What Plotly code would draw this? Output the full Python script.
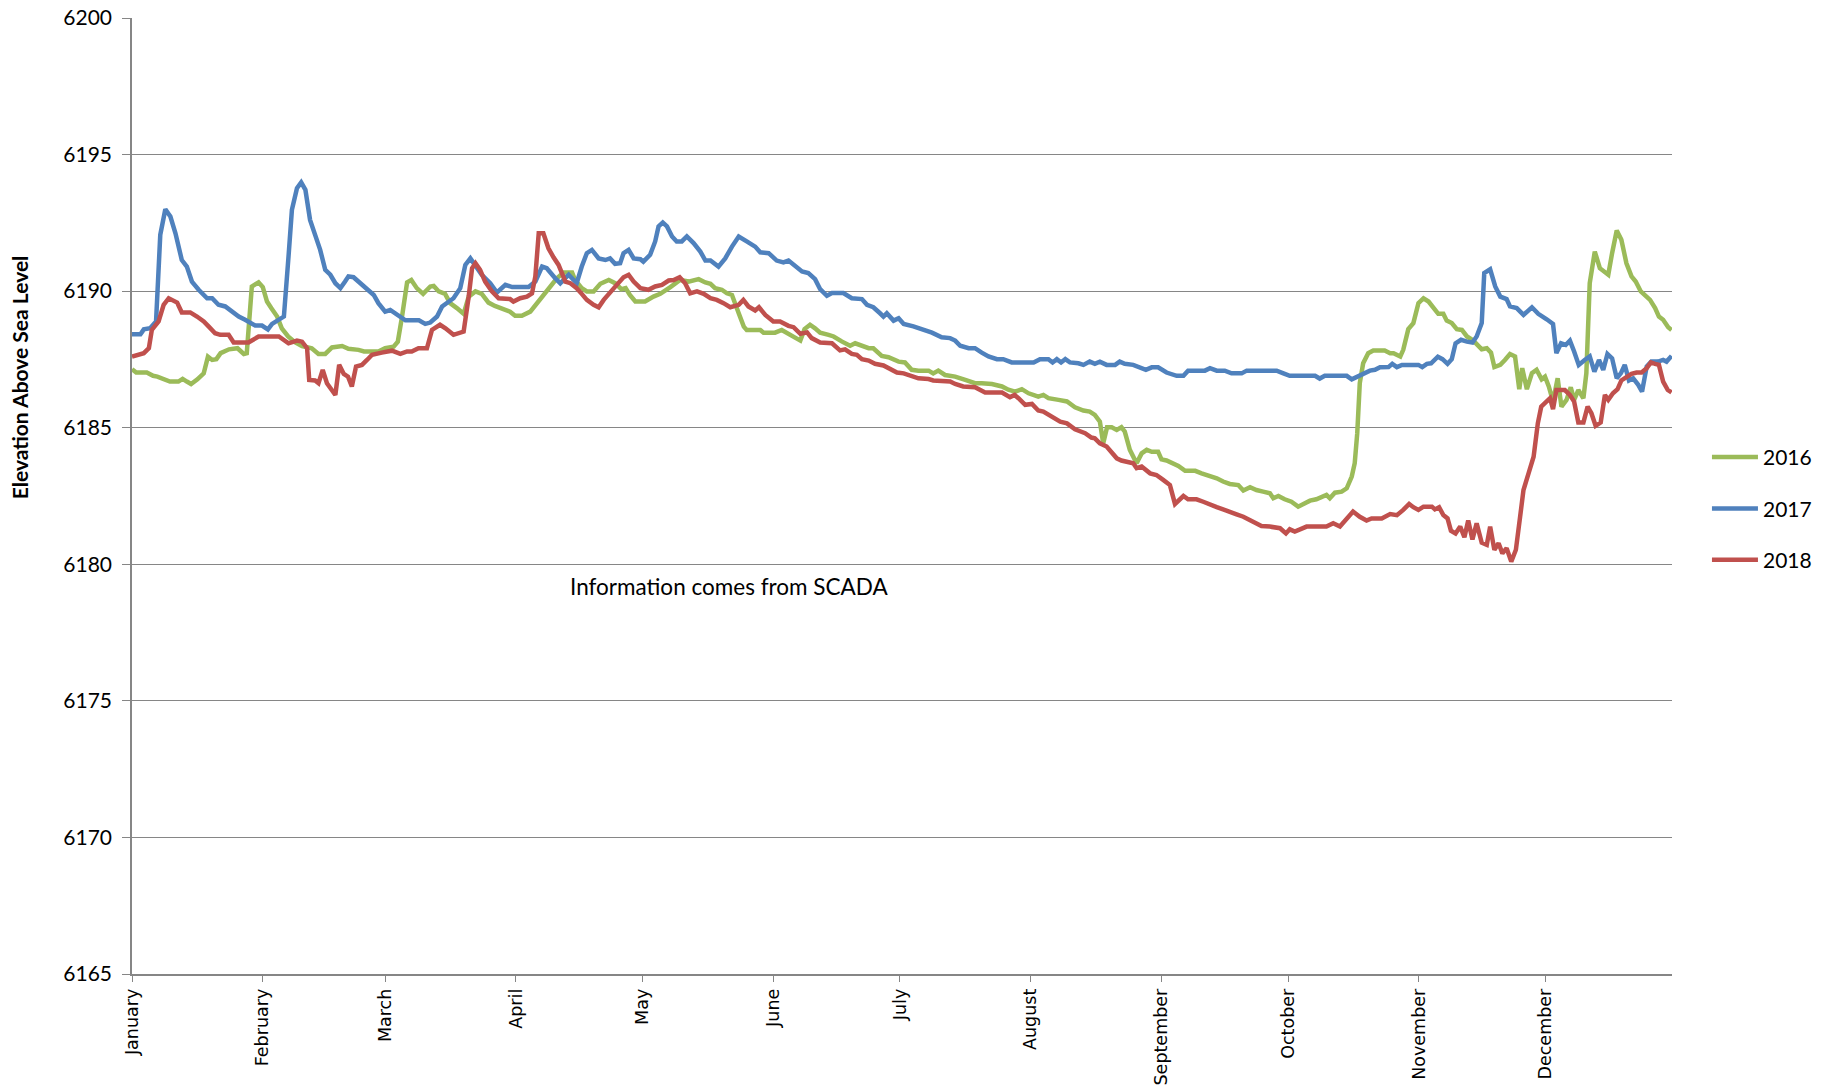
import plotly.graph_objects as go

# Reservoir elevation (ft above sea level) by day of year, 0 = January 1
days_2016 = [0, 1, 3.5, 5, 6, 7.5, 9, 11, 12, 13, 14, 15.5, 17, 18, 19, 20, 21, 23, 25, 26.5, 27.2,
             28.4, 30, 31, 32, 33, 34.4, 35.5, 37, 38.7, 40.3, 42.6, 44.2, 45.8, 47.4, 49.8, 51.3,
             53.7, 55, 58.4, 60, 62, 63, 64, 65.2, 66.2, 67.5, 69, 70.7, 71.5, 72.7, 74.2, 75.4, 77,
             78.6, 79.8, 81.4, 82.9, 84.5, 86, 88.5, 89.6, 90.8, 92.4, 94.4, 96, 97.5, 99, 100.7,
             102.3, 104.3, 105, 106.6, 107.8, 109.4, 111, 113, 114.5, 116, 117, 118, 119.3, 121.6,
             123.6, 125.2, 127.6, 129.9, 131.9, 134.3, 135.9, 137.1, 138.2, 139.8, 141, 142.2,
             143.8, 145, 145.7, 148.9, 149.7, 152.4, 154, 155.6, 158.4, 159.4, 160.7, 161.9, 163.1,
             165.1, 166.3, 168.2, 170.2, 171.4, 173, 174.6, 175.7, 177.7, 179.3, 181.7, 183.2,
             184.8, 186.4, 188.8, 189.9, 191.1, 192.7, 195.1, 197.5, 199.8, 201.4, 203.8, 206.2,
             207.7, 209.3, 210.9, 212.5, 214.8, 216, 217.2, 219.6, 221.6, 223.5, 225.5, 227, 228.2,
             229.4, 230.2, 231.1, 232.2, 233.4, 234.5, 235.3, 236.5, 238.1, 239.3, 240.5, 241.7,
             243.2, 244, 245.2, 246.8, 248, 249.6, 252, 253.5, 255.5, 257.1, 258.6, 260.2, 262.2,
             263.4, 265, 266.5, 268.1, 269.7, 270.5, 271.7, 273.2, 274.8, 276.4, 277.6, 279.2,
             280.7, 281.9, 283.1, 283.9, 285.1, 286.7, 287.9, 289.1, 289.8, 290.4, 291, 291.8, 293,
             294.2, 296.9, 298.2, 299, 300.6, 301.3, 302.5, 303.7, 304.9, 306.1, 307.3, 308.5, 309.6,
             310.8, 311.6, 312.8, 314, 315.2, 316.4, 317.9, 319.1, 319.9, 321.1, 322.1, 322.9, 324.3,
             325.4, 326.6, 327.8, 328.8, 329.5, 330.6, 331.8, 332.9, 334.1, 334.9, 335.8, 336.8,
             337.9, 338.8, 340, 341, 341.8, 342.8, 344, 344.7, 345.5, 346.7, 347.9, 349.9, 350.8,
             351.9, 353, 354.2, 355.4, 356.4, 357.6, 359.8, 361, 361.9, 362.9, 364.1, 364.9]
elev_2016 = [6187.14, 6187.02, 6187.02, 6186.9, 6186.87, 6186.79, 6186.69, 6186.69, 6186.79, 6186.69,
             6186.6, 6186.77, 6186.99, 6187.6, 6187.48, 6187.51, 6187.73, 6187.87, 6187.91, 6187.7,
             6187.73, 6190.17, 6190.32, 6190.15, 6189.62, 6189.38, 6189.07, 6188.64, 6188.34,
             6188.12, 6187.99, 6187.91, 6187.7, 6187.7, 6187.94, 6187.99, 6187.89, 6187.85, 6187.79,
             6187.79, 6187.91, 6187.97, 6188.15, 6189.07, 6190.32, 6190.41, 6190.11, 6189.9, 6190.17,
             6190.19, 6189.99, 6189.9, 6189.56, 6189.38, 6189.17, 6189.8, 6189.99, 6189.9, 6189.58,
             6189.46, 6189.29, 6189.25, 6189.1, 6189.1, 6189.25, 6189.56, 6189.8, 6190.11, 6190.47,
             6190.68, 6190.68, 6190.41, 6190.11, 6189.99, 6189.99, 6190.27, 6190.41, 6190.29,
             6190.07, 6190.11, 6189.86, 6189.62, 6189.62, 6189.8, 6189.9, 6190.15, 6190.41, 6190.35,
             6190.44, 6190.32, 6190.27, 6190.11, 6190.05, 6189.92, 6189.86, 6189.19, 6188.7, 6188.58,
             6188.58, 6188.48, 6188.48, 6188.58, 6188.44, 6188.19, 6188.61, 6188.77, 6188.64,
             6188.48, 6188.4, 6188.34, 6188.16, 6188.0, 6188.09, 6188.0, 6187.91, 6187.91, 6187.63,
             6187.58, 6187.42, 6187.39, 6187.12, 6187.09, 6187.09, 6186.99, 6187.09, 6186.93,
             6186.87, 6186.75, 6186.63, 6186.63, 6186.6, 6186.51, 6186.39, 6186.32, 6186.41, 6186.26,
             6186.14, 6186.2, 6186.08, 6186.02, 6185.96, 6185.75, 6185.63, 6185.59, 6185.47, 6185.22,
             6184.43, 6185.02, 6185.02, 6184.92, 6185.02, 6184.86, 6184.19, 6183.7, 6184.06, 6184.19,
             6184.12, 6184.12, 6183.84, 6183.8, 6183.67, 6183.6, 6183.42, 6183.42, 6183.33, 6183.23,
             6183.15, 6183.03, 6182.94, 6182.9, 6182.7, 6182.82, 6182.72, 6182.66, 6182.6, 6182.42,
             6182.5, 6182.38, 6182.29, 6182.11, 6182.21, 6182.33, 6182.38, 6182.48, 6182.54, 6182.42,
             6182.62, 6182.66, 6182.78, 6183.21, 6183.7, 6184.8, 6186.63, 6187.36, 6187.73, 6187.83,
             6187.83, 6187.73, 6187.73, 6187.61, 6187.85, 6188.61, 6188.83, 6189.56, 6189.74,
             6189.62, 6189.38, 6189.17, 6189.17, 6188.92, 6188.83, 6188.61, 6188.58, 6188.34,
             6188.19, 6188.03, 6187.87, 6187.91, 6187.75, 6187.22, 6187.3, 6187.48, 6187.7, 6187.61,
             6186.41, 6187.18, 6186.41, 6187.0, 6187.12, 6186.77, 6186.87, 6186.51, 6185.96, 6186.81,
             6185.77, 6186.02, 6186.48, 6186.02, 6186.38, 6186.08, 6186.99, 6190.29, 6191.45,
             6190.84, 6190.6, 6191.39, 6192.22, 6191.88, 6191.02, 6190.54, 6190.35, 6189.99, 6189.68,
             6189.38, 6189.07, 6188.95, 6188.68, 6188.58]

days_2017 = [0, 2, 2.8, 4.3, 5.7, 6.7, 7.9, 9.1, 10.3, 11.8, 13, 14.2, 15.8, 17.8, 19, 20.5, 22.1,
             23.7, 25.3, 26.8, 29.2, 30.8, 32.2, 33.2, 34.4, 36, 37.1, 37.9, 39.1, 40.1, 41.1, 42.2,
             43.4, 44.6, 45.8, 47, 48.2, 49.4, 50.5, 51.3, 52.5, 53.7, 55.3, 57.3, 58.4, 60, 61.2,
             62.8, 64.8, 68, 69.5, 70.7, 72.3, 73.5, 76.2, 77.8, 79, 80.2, 81.4, 82.9, 84.9, 86.5,
             88.5, 90.1, 94, 95.6, 97.2, 98.3, 100.3, 101.5, 103.5, 105.4, 106.6, 107.8, 109, 110.6,
             112.2, 113.3, 114.5, 115.7, 116.5, 117.7, 118.9, 120.5, 121.2, 122.8, 124, 124.8, 125.8,
             126.8, 128, 129.1, 130.3, 131.5, 133.1, 134.7, 135.9, 137.1, 139, 140.6, 142.2, 143.8,
             145.7, 147.7, 148.9, 150.9, 152.8, 154.4, 155.6, 157.6, 158.8, 160.3, 161.9, 163.1,
             164.7, 165.9, 168.6, 170.6, 173, 174.2, 175.7, 177.3, 178.1, 178.9, 180.5, 181.7, 182.9,
             185.2, 187.2, 189.6, 191.9, 193.9, 195.1, 196.3, 198.3, 199.8, 201.4, 203, 205, 206.5,
             208.5, 213.7, 215.2, 217.2, 218.2, 219.2, 220.2, 221.2, 222.3, 224.3, 225.5, 227, 228.2,
             229.4, 231, 233, 234.1, 235.3, 237.3, 238.9, 240.3, 241.7, 243.2, 245.2, 247.6, 249.2,
             250.3, 254.3, 255.5, 257.1, 259, 260.6, 263, 264.2, 271.3, 272.9, 274.4, 280.4, 281.5,
             282.7, 287.9, 289.1, 290.2, 291.8, 293.4, 294.6, 295.8, 297.8, 298.7, 299.8, 301, 304.9,
             305.8, 306.9, 307.9, 309.5, 310.6, 311.8, 312.8, 313.7, 315, 316.4, 317.7, 318.7, 319.9,
             320.5, 321.9, 323.1, 324.3, 325.8, 326.6, 328.2, 329.8, 331.8, 333.3, 335.3, 336.8,
             337.6, 338.7, 339.8, 340.8, 341.8, 342.9, 344.3, 345.5, 346.6, 347.7, 348.7, 349.7,
             350.8, 351.9, 352.9, 353.8, 354.8, 355.8, 357, 357.9, 359, 360.1, 361.7, 362.9, 363.7,
             364.9]
elev_2017 = [6188.42, 6188.42, 6188.6, 6188.64, 6188.89, 6192.06, 6193.0, 6192.73, 6192.12, 6191.14,
             6190.9, 6190.35, 6190.05, 6189.74, 6189.74, 6189.5, 6189.44, 6189.25, 6189.07, 6188.95,
             6188.74, 6188.74, 6188.6, 6188.8, 6188.9, 6189.07, 6191.27, 6192.98, 6193.77, 6193.98,
             6193.71, 6192.61, 6192.06, 6191.51, 6190.78, 6190.6, 6190.29, 6190.11, 6190.35, 6190.54,
             6190.51, 6190.35, 6190.11, 6189.86, 6189.56, 6189.25, 6189.31, 6189.13, 6188.93,
             6188.93, 6188.8, 6188.85, 6189.07, 6189.44, 6189.74, 6190.11, 6190.96, 6191.2, 6190.96,
             6190.6, 6190.29, 6189.95, 6190.23, 6190.15, 6190.15, 6190.35, 6190.9, 6190.84, 6190.47,
             6190.29, 6190.6, 6190.29, 6190.9, 6191.39, 6191.51, 6191.2, 6191.14, 6191.2, 6191.0,
             6191.02, 6191.39, 6191.51, 6191.2, 6191.17, 6191.08, 6191.33, 6191.82, 6192.37, 6192.51,
             6192.37, 6192.0, 6191.82, 6191.82, 6192.0, 6191.76, 6191.45, 6191.12, 6191.12, 6190.9,
             6191.2, 6191.63, 6192.0, 6191.82, 6191.63, 6191.42, 6191.39, 6191.12, 6191.05, 6191.12,
             6190.84, 6190.72, 6190.66, 6190.44, 6190.07, 6189.83, 6189.93, 6189.93, 6189.74,
             6189.71, 6189.5, 6189.41, 6189.19, 6189.07, 6189.19, 6188.92, 6189.01, 6188.8, 6188.71,
             6188.61, 6188.48, 6188.31, 6188.28, 6188.19, 6188.0, 6187.91, 6187.91, 6187.75, 6187.61,
             6187.51, 6187.51, 6187.39, 6187.39, 6187.51, 6187.51, 6187.39, 6187.51, 6187.39,
             6187.51, 6187.39, 6187.36, 6187.3, 6187.42, 6187.34, 6187.42, 6187.3, 6187.3, 6187.42,
             6187.34, 6187.3, 6187.21, 6187.12, 6187.21, 6187.21, 6187.02, 6186.9, 6186.9, 6187.09,
             6187.09, 6187.18, 6187.09, 6187.09, 6186.99, 6186.99, 6187.09, 6187.09, 6186.99, 6186.9,
             6186.9, 6186.8, 6186.9, 6186.9, 6186.77, 6186.85, 6186.97, 6187.09, 6187.12, 6187.21,
             6187.22, 6187.34, 6187.22, 6187.3, 6187.3, 6187.22, 6187.34, 6187.36, 6187.6, 6187.51,
             6187.34, 6187.51, 6188.09, 6188.22, 6188.15, 6188.12, 6188.34, 6188.83, 6190.66, 6190.8,
             6190.17, 6189.8, 6189.71, 6189.44, 6189.38, 6189.13, 6189.41, 6189.17, 6188.97, 6188.8,
             6187.73, 6188.09, 6188.03, 6188.19, 6187.79, 6187.3, 6187.48, 6187.61, 6187.05, 6187.48,
             6187.12, 6187.7, 6187.54, 6186.81, 6187.0, 6187.3, 6186.73, 6186.81, 6186.57, 6186.32,
             6187.24, 6187.42, 6187.42, 6187.48, 6187.42, 6187.63]

days_2018 = [0, 1.6, 2.8, 4, 4.7, 6.3, 7.5, 8.7, 9.9, 10.7, 11.8, 13.8, 15.4, 17, 18.2, 19.7, 20.9,
             22.9, 24.1, 27.6, 30, 34.8, 37.1, 39.1, 40.3, 41.5, 42, 43.4, 44.2, 45.2, 46.2, 48.2,
             49.1, 50.2, 51.2, 52.1, 53.1, 54.5, 55.7, 56.9, 59.2, 61.6, 63.6, 65.2, 66.3, 67.9, 69.9,
             71.1, 73, 74.3, 76.2, 77.4, 78.6, 79.8, 80.6, 81.4, 82.5, 83.7, 85.3, 86.9, 89.6, 90.4,
             92, 93.6, 94.8, 95.6, 96.4, 97.5, 98.7, 99.9, 101.1, 101.9, 102.7, 103.9, 105.4, 106.6,
             107.8, 109.4, 110.6, 111.8, 113.3, 114.9, 116.5, 117.7, 118.9, 120.5, 122.4, 124, 125.6,
             127.2, 128.4, 129.8, 131.1, 132.3, 133.9, 135.5, 137.1, 138.6, 140.2, 141.8, 143.8,
             144.9, 146.1, 147.7, 148.6, 150.1, 152, 153.6, 155.6, 156.8, 158.4, 160, 161.1, 163.1,
             165.9, 167.8, 169, 170.6, 171.8, 173, 174.6, 176.1, 178.1, 179.7, 181.3, 182.9, 184.4,
             186.4, 188.8, 189.9, 193.9, 195.1, 197, 199.8, 202.2, 206.2, 208.1, 209.2, 210.1, 211.7,
             213.3, 214.8, 216, 218, 220, 221.6, 223.5, 225.9, 227.4, 228.2, 229.4, 231, 232.2, 233.4,
             234.5, 236.5, 237.3, 238.1, 239.3, 241.3, 242.8, 244.4, 246, 247.2, 248.4, 249.2, 250.3,
             252.3, 253.9, 255.5, 257.1, 258.6, 260.2, 261.8, 263.4, 265, 266.5, 267.7, 269.7, 272.1,
             273.5, 274.4, 275.6, 276.8, 278.4, 283.1, 284.7, 286.3, 287.9, 289.4, 291, 292.6, 293.8,
             296.2, 298.2, 299.8, 301.3, 302.7, 303.7, 304.9, 306.1, 308.1, 308.8, 309.8, 310.8,
             311.8, 312.6, 313.7, 314.8, 315.8, 316.7, 317.7, 318.7, 319.9, 321.1, 321.9, 322.9,
             323.9, 324.8, 325.8, 326.9, 328, 329, 329.8, 331, 332.2, 333.2, 334, 335.3, 336.1, 336.8,
             337.6, 339.6, 340.8, 341.8, 342.8, 344, 345, 345.9, 346.9, 348.1, 349.1, 349.9, 351,
             352.1, 353, 354.2, 355.4, 356.6, 357.8, 359, 360, 361, 361.9, 362.9, 364, 364.9]
elev_2018 = [6187.6, 6187.67, 6187.73, 6187.91, 6188.58, 6188.89, 6189.5, 6189.74, 6189.62, 6189.58,
             6189.22, 6189.22, 6189.07, 6188.89, 6188.7, 6188.46, 6188.4, 6188.4, 6188.12, 6188.12,
             6188.34, 6188.34, 6188.09, 6188.19, 6188.15, 6187.91, 6186.75, 6186.73, 6186.63,
             6187.12, 6186.63, 6186.2, 6187.3, 6186.97, 6186.87, 6186.51, 6187.24, 6187.3, 6187.48,
             6187.67, 6187.75, 6187.82, 6187.7, 6187.79, 6187.79, 6187.91, 6187.91, 6188.58, 6188.77,
             6188.64, 6188.4, 6188.46, 6188.52, 6189.8, 6190.84, 6191.02, 6190.78, 6190.35, 6189.99,
             6189.74, 6189.71, 6189.62, 6189.74, 6189.8, 6189.92, 6190.54, 6192.12, 6192.12, 6191.57,
             6191.24, 6190.96, 6190.66, 6190.35, 6190.29, 6190.11, 6189.9, 6189.68, 6189.5, 6189.41,
             6189.68, 6189.92, 6190.23, 6190.51, 6190.6, 6190.35, 6190.11, 6190.05, 6190.17, 6190.23,
             6190.39, 6190.41, 6190.51, 6190.29, 6189.92, 6189.99, 6189.9, 6189.74, 6189.68, 6189.56,
             6189.41, 6189.5, 6189.68, 6189.44, 6189.29, 6189.41, 6189.13, 6188.89, 6188.89, 6188.73,
             6188.68, 6188.44, 6188.49, 6188.28, 6188.12, 6188.09, 6187.83, 6187.87, 6187.7, 6187.67,
             6187.51, 6187.46, 6187.34, 6187.28, 6187.14, 6187.02, 6186.99, 6186.9, 6186.81, 6186.78,
             6186.73, 6186.69, 6186.6, 6186.51, 6186.48, 6186.29, 6186.29, 6186.12, 6186.2, 6186.08,
             6185.84, 6185.87, 6185.63, 6185.59, 6185.41, 6185.22, 6185.16, 6184.94, 6184.8, 6184.64,
             6184.61, 6184.43, 6184.31, 6184.12, 6183.88, 6183.8, 6183.73, 6183.7, 6183.52, 6183.58,
             6183.33, 6183.27, 6183.09, 6182.9, 6182.21, 6182.42, 6182.5, 6182.38, 6182.38, 6182.29,
             6182.21, 6182.09, 6182.01, 6181.9, 6181.83, 6181.74, 6181.62, 6181.52, 6181.4, 6181.38,
             6181.32, 6181.13, 6181.28, 6181.2, 6181.26, 6181.38, 6181.38, 6181.5, 6181.38, 6181.68,
             6181.93, 6181.74, 6181.6, 6181.68, 6181.68, 6181.84, 6181.8, 6181.99, 6182.21, 6182.09,
             6181.99, 6182.11, 6182.11, 6182.01, 6182.09, 6181.8, 6181.68, 6181.23, 6181.13, 6181.38,
             6180.99, 6181.6, 6180.91, 6181.5, 6180.79, 6180.71, 6181.38, 6180.53, 6180.77, 6180.4,
             6180.59, 6180.1, 6180.53, 6181.74, 6182.72, 6183.33, 6183.94, 6185.16, 6185.77, 6185.96,
             6186.08, 6185.68, 6186.38, 6186.38, 6186.2, 6185.96, 6185.19, 6185.19, 6185.77, 6185.53,
             6185.07, 6185.19, 6186.2, 6186.02, 6186.26, 6186.41, 6186.73, 6186.85, 6186.97, 6187.02,
             6187.02, 6187.18, 6187.39, 6187.34, 6187.3, 6186.69, 6186.38, 6186.29]

month_starts = [0, 31, 60, 91, 121, 152, 182, 213, 244, 274, 305, 335]
month_names = ["January", "February", "March", "April", "May", "June", "July",
               "August", "September", "October", "November", "December"]

series = [
    ("2016", days_2016, elev_2016, "#9BBB59"),
    ("2017", days_2017, elev_2017, "#4F81BD"),
    ("2018", days_2018, elev_2018, "#C0504D"),
]

AXIS_GREY = "#868686"
TEXT_FONT = "Lato, 'Open Sans', sans-serif"

fig = go.Figure()
for name, xs, ys, color in series:
    fig.add_trace(go.Scatter(
        x=xs, y=ys, name=name, mode="lines", legendgroup=name,
        line=dict(color=color, width=4.5, shape="linear"),
    ))

# note placed inside the plot, below the curves
fig.add_annotation(
    x=141.5, y=6179.2, xref="x", yref="y",
    text="Information comes from SCADA", showarrow=False,
    font=dict(family=TEXT_FONT, size=22.5, color="#000000"),
)

# vertical axis title, set a little above the middle of the axis
fig.add_annotation(
    x=-0.0725, y=6186.86, xref="paper", yref="y",
    text="<b>Elevation Above Sea Level</b>", showarrow=False, textangle=-90,
    xanchor="center", yanchor="middle",
    font=dict(family=TEXT_FONT, size=21, color="#000000"),
)

fig.update_layout(
    width=1830, height=1087,
    margin=dict(l=132, r=158, t=18, b=113, pad=0),
    paper_bgcolor="#FFFFFF", plot_bgcolor="#FFFFFF",
    showlegend=True,
    legend=dict(
        x=1.0227, y=0.487, xanchor="left", yanchor="middle",
        traceorder="grouped", tracegroupgap=21, itemwidth=46,
        font=dict(family=TEXT_FONT, size=21, color="#000000"),
        bgcolor="rgba(0,0,0,0)", borderwidth=0,
    ),
    xaxis=dict(
        range=[0, 365], tickmode="array", tickvals=month_starts, ticktext=month_names,
        tickangle=-90, ticks="outside", ticklen=6, tickcolor=AXIS_GREY, tickwidth=1,
        showgrid=False, zeroline=False, showline=True, linecolor=AXIS_GREY, linewidth=1.5,
        automargin=False,
        tickfont=dict(family="'DejaVu Sans', sans-serif", size=17.5, color="#000000"),
    ),
    yaxis=dict(
        range=[6165, 6200], dtick=5, tick0=6165,
        ticks="outside", ticklen=8, tickcolor=AXIS_GREY, tickwidth=1,
        showgrid=True, gridcolor=AXIS_GREY, gridwidth=1,
        zeroline=False, showline=True, linecolor=AXIS_GREY, linewidth=1.5,
        automargin=False, ticklabelstandoff=6,
        tickfont=dict(family=TEXT_FONT, size=21, color="#000000"),
    ),
)

fig.write_html("out.html")
